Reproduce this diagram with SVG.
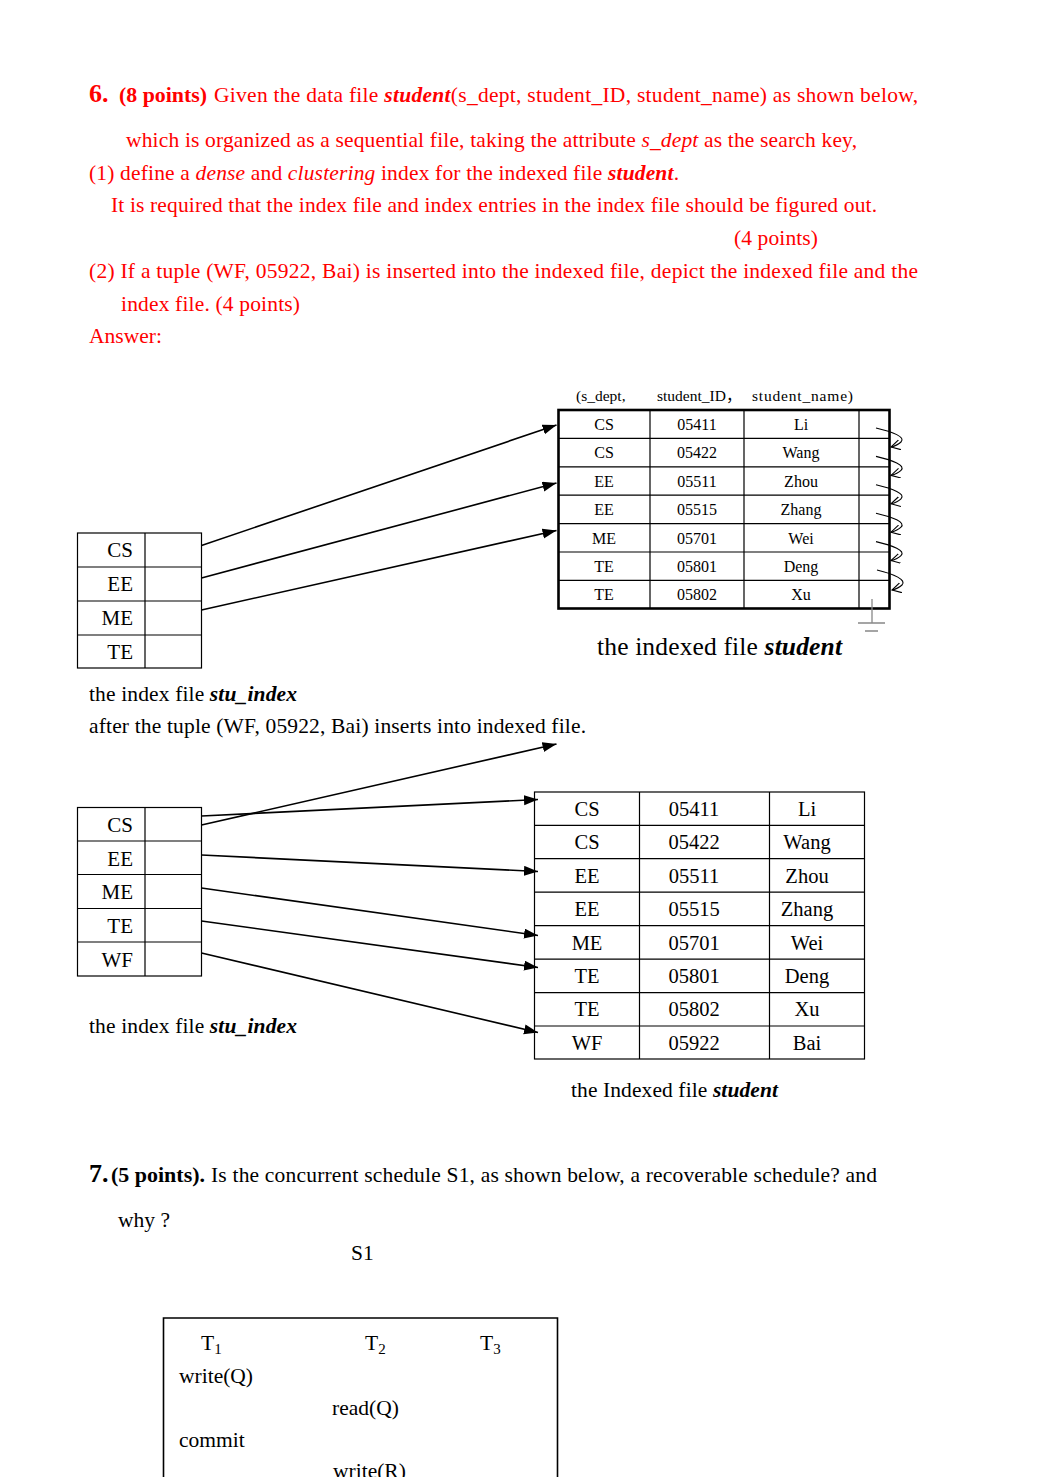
<svg xmlns="http://www.w3.org/2000/svg" width="1040" height="1477" viewBox="0 0 1040 1477">
<style>
text{font-family:"Liberation Serif","Times New Roman",serif;}
.r{fill:#ff0000;font-size:21.5px;}
.k{fill:#000;font-size:21.5px;}
.b{font-weight:bold;}
.i{font-style:italic;}
.bi{font-weight:bold;font-style:italic;}
.t1{font-size:16px;fill:#000;text-anchor:middle;}
.t2{font-size:20.5px;fill:#000;text-anchor:middle;}
.ix{font-size:21px;fill:#000;text-anchor:end;}
.thin{fill:none;stroke:#000;stroke-width:1.2;}
.thick{fill:none;stroke:#000;stroke-width:2.6;}
.conn{fill:none;stroke:#000;stroke-width:1.6;}
.curl{fill:none;stroke:#000;stroke-width:1.1;}
</style>
<defs>
<marker id="ah" markerUnits="userSpaceOnUse" markerWidth="15" markerHeight="11" refX="14" refY="5" orient="auto">
<path d="M0,0 L14,5 L0,10 Z" fill="#000"/>
</marker>
<marker id="ov" markerUnits="userSpaceOnUse" markerWidth="12" markerHeight="12" refX="9" refY="5" orient="auto">
<path d="M0,0 L9,5 L0,10" fill="none" stroke="#000" stroke-width="1.1"/>
</marker>
</defs>

<g id="question6">
<text class="r" x="89" y="102"><tspan class="b" style="font-size:26px">6.</tspan></text>
<text class="r b" x="119" y="102" textLength="88" lengthAdjust="spacingAndGlyphs">(8 points)</text>
<text class="r" x="214" y="102" textLength="704" lengthAdjust="spacing">Given the data file <tspan class="bi">student</tspan>(s_dept, student_ID, student_name) as shown below,</text>
<text class="r" x="126" y="147" textLength="731" lengthAdjust="spacing">which is organized as a sequential file, taking the attribute <tspan class="i">s_dept</tspan> as the search key,</text>
<text class="r" x="89" y="180" textLength="590" lengthAdjust="spacing">(1) define a <tspan class="i">dense</tspan> and <tspan class="i">clustering</tspan> index for the indexed file <tspan class="bi">student</tspan>.</text>
<text class="r" x="111" y="212" textLength="766" lengthAdjust="spacing">It is required that the index file and index entries in the index file should be figured out.</text>
<text class="r" x="734" y="245" textLength="84" lengthAdjust="spacing">(4 points)</text>
<text class="r" x="89" y="278" textLength="829" lengthAdjust="spacing">(2) If a tuple (WF, 05922, Bai) is inserted into the indexed file, depict the indexed file and the</text>
<text class="r" x="121" y="311" textLength="179" lengthAdjust="spacing">index file. (4 points)</text>
<text class="r" x="89" y="343" textLength="73" lengthAdjust="spacing">Answer:</text>
</g>

<g id="indexed-file-1">
<text class="k" x="576" y="401" style="font-size:15.5px">(s_dept,</text>
<text class="k" x="657" y="401" style="font-size:15.5px;font-family:'Liberation Serif','Noto Sans CJK SC',serif">student_ID，</text>
<text class="k" x="752" y="401" style="font-size:15.5px" textLength="101" lengthAdjust="spacing">student_name)</text>
<rect class="thick" x="558.5" y="410" width="331" height="198.5"/>
<path class="thin" d="M650,410 V608.5 M744,410 V608.5 M859,410 V608.5 M558.5,438.4 H889.5 M558.5,466.8 H889.5 M558.5,495.2 H889.5 M558.5,523.6 H889.5 M558.5,552 H889.5 M558.5,580.4 H889.5"/>
<g>
<text class="t1" x="604" y="430">CS</text><text class="t1" x="697" y="430">05411</text><text class="t1" x="801" y="430">Li</text>
<text class="t1" x="604" y="458.4">CS</text><text class="t1" x="697" y="458.4">05422</text><text class="t1" x="801" y="458.4">Wang</text>
<text class="t1" x="604" y="486.8">EE</text><text class="t1" x="697" y="486.8">05511</text><text class="t1" x="801" y="486.8">Zhou</text>
<text class="t1" x="604" y="515.2">EE</text><text class="t1" x="697" y="515.2">05515</text><text class="t1" x="801" y="515.2">Zhang</text>
<text class="t1" x="604" y="543.6">ME</text><text class="t1" x="697" y="543.6">05701</text><text class="t1" x="801" y="543.6">Wei</text>
<text class="t1" x="604" y="572">TE</text><text class="t1" x="697" y="572">05801</text><text class="t1" x="801" y="572">Deng</text>
<text class="t1" x="604" y="600.4">TE</text><text class="t1" x="697" y="600.4">05802</text><text class="t1" x="801" y="600.4">Xu</text>
</g>
<g id="null-pointer" stroke="#888" stroke-width="1.3" fill="none">
<path d="M872,599 V623 M858,623 H885 M865,631 H878"/>
</g>
<text class="k" x="597" y="655" style="font-size:25.5px" textLength="245" lengthAdjust="spacing">the indexed file <tspan class="bi">student</tspan></text>
</g>

<g id="index-file-1">
<rect class="thin" x="77.5" y="533" width="124" height="135"/>
<path class="thin" d="M145,533 V668 M77.5,567 H201.5 M77.5,601 H201.5 M77.5,635 H201.5"/>
<text class="ix" x="133" y="557">CS</text>
<text class="ix" x="133" y="591">EE</text>
<text class="ix" x="133" y="625">ME</text>
<text class="ix" x="133" y="659">TE</text>
<text class="k" x="89" y="701" textLength="208" lengthAdjust="spacing">the index file <tspan class="bi">stu_index</tspan></text>
</g>

<text class="k" x="89" y="733" textLength="497" lengthAdjust="spacing">after the tuple (WF, 05922, Bai) inserts into indexed file.</text>

<g id="index-file-2">
<rect class="thin" x="77.5" y="807.5" width="124" height="168.5"/>
<path class="thin" d="M145,807.5 V976 M77.5,841 H201.5 M77.5,874.5 H201.5 M77.5,908.5 H201.5 M77.5,942 H201.5"/>
<text class="ix" x="133" y="832">CS</text>
<text class="ix" x="133" y="866">EE</text>
<text class="ix" x="133" y="899">ME</text>
<text class="ix" x="133" y="933">TE</text>
<text class="ix" x="133" y="967">WF</text>
<text class="k" x="89" y="1033" textLength="208" lengthAdjust="spacing">the index file <tspan class="bi">stu_index</tspan></text>
</g>

<g id="indexed-file-2">
<rect class="thin" x="534.5" y="792" width="330" height="267"/>
<path class="thin" d="M639.5,792 V1059 M769.5,792 V1059 M534.5,825.3 H864.5 M534.5,858.7 H864.5 M534.5,892.2 H864.5 M534.5,925.7 H864.5 M534.5,959.2 H864.5 M534.5,992.7 H864.5 M534.5,1026 H864.5"/>
<g>
<text class="t2" x="587" y="816">CS</text><text class="t2" x="694" y="816">05411</text><text class="t2" x="807" y="816">Li</text>
<text class="t2" x="587" y="849.4">CS</text><text class="t2" x="694" y="849.4">05422</text><text class="t2" x="807" y="849.4">Wang</text>
<text class="t2" x="587" y="882.8">EE</text><text class="t2" x="694" y="882.8">05511</text><text class="t2" x="807" y="882.8">Zhou</text>
<text class="t2" x="587" y="916.2">EE</text><text class="t2" x="694" y="916.2">05515</text><text class="t2" x="807" y="916.2">Zhang</text>
<text class="t2" x="587" y="949.6">ME</text><text class="t2" x="694" y="949.6">05701</text><text class="t2" x="807" y="949.6">Wei</text>
<text class="t2" x="587" y="983">TE</text><text class="t2" x="694" y="983">05801</text><text class="t2" x="807" y="983">Deng</text>
<text class="t2" x="587" y="1016.4">TE</text><text class="t2" x="694" y="1016.4">05802</text><text class="t2" x="807" y="1016.4">Xu</text>
<text class="t2" x="587" y="1050">WF</text><text class="t2" x="694" y="1050">05922</text><text class="t2" x="807" y="1050">Bai</text>
</g>
<text class="k" x="571" y="1097" textLength="207" lengthAdjust="spacing">the Indexed file <tspan class="bi">student</tspan></text>
</g>

<g id="connectors">
<line class="conn" x1="201.5" y1="545.5" x2="556.5" y2="425" marker-end="url(#ah)"/>
<line class="conn" x1="201.5" y1="578" x2="556.5" y2="483" marker-end="url(#ah)"/>
<line class="conn" x1="201.5" y1="610" x2="556.5" y2="530.5" marker-end="url(#ah)"/>
<g class="curls">
<path class="curl" d="M876,428 C893,432 906,437 901,442 C898,445 895,446 891,447" marker-end="url(#ov)"/>
<path class="curl" d="M876,456.4 C893,460.4 906,465.4 901,470.4 C898,473.4 895,474.4 891,475.4" marker-end="url(#ov)"/>
<path class="curl" d="M876,484.8 C893,488.8 906,493.8 901,498.8 C898,501.8 895,502.8 891,503.8" marker-end="url(#ov)"/>
<path class="curl" d="M876,513.2 C893,517.2 906,522.2 901,527.2 C898,530.2 895,531.2 891,532.2" marker-end="url(#ov)"/>
<path class="curl" d="M876,541.6 C893,545.6 906,550.6 901,555.6 C898,558.6 895,559.6 891,560.6" marker-end="url(#ov)"/>
<path class="curl" d="M877,570 C894,574 907,580 902,585 C899,588 896,589 892,590" marker-end="url(#ov)"/>
</g>
<line class="conn" x1="201.5" y1="816" x2="538" y2="799.5" marker-end="url(#ah)"/>
<line class="conn" x1="201.5" y1="825" x2="556.5" y2="744" marker-end="url(#ah)"/>
<line class="conn" x1="201.5" y1="855" x2="538" y2="871.5" marker-end="url(#ah)"/>
<line class="conn" x1="201.5" y1="888" x2="538" y2="935.5" marker-end="url(#ah)"/>
<line class="conn" x1="201.5" y1="921" x2="538" y2="967.5" marker-end="url(#ah)"/>
<line class="conn" x1="201.5" y1="953" x2="538" y2="1032.5" marker-end="url(#ah)"/>
</g>

<g id="question7">
<text class="k b" x="89" y="1182" style="font-size:26px">7.</text>
<text class="k b" x="111" y="1182" textLength="94" lengthAdjust="spacingAndGlyphs">(5 points).</text>
<text class="k" x="211" y="1182" textLength="666" lengthAdjust="spacing">Is the concurrent schedule S1, as shown below, a recoverable schedule? and</text>
<text class="k" x="118" y="1227">why ?</text>
<text class="k" x="351" y="1260">S1</text>
</g>

<g id="schedule-S1">
<path fill="none" stroke="#000" stroke-width="1.6" d="M163.5,1477 V1318 H557.5 V1477"/>
<text class="k" x="201" y="1350">T<tspan style="font-size:15px" dy="4">1</tspan></text>
<text class="k" x="365" y="1350">T<tspan style="font-size:15px" dy="4">2</tspan></text>
<text class="k" x="480" y="1350">T<tspan style="font-size:15px" dy="4">3</tspan></text>
<text class="k" x="179" y="1383">write(Q)</text>
<text class="k" x="332" y="1415">read(Q)</text>
<text class="k" x="179" y="1447">commit</text>
<text class="k" x="333" y="1478">write(R)</text>
</g>
</svg>
